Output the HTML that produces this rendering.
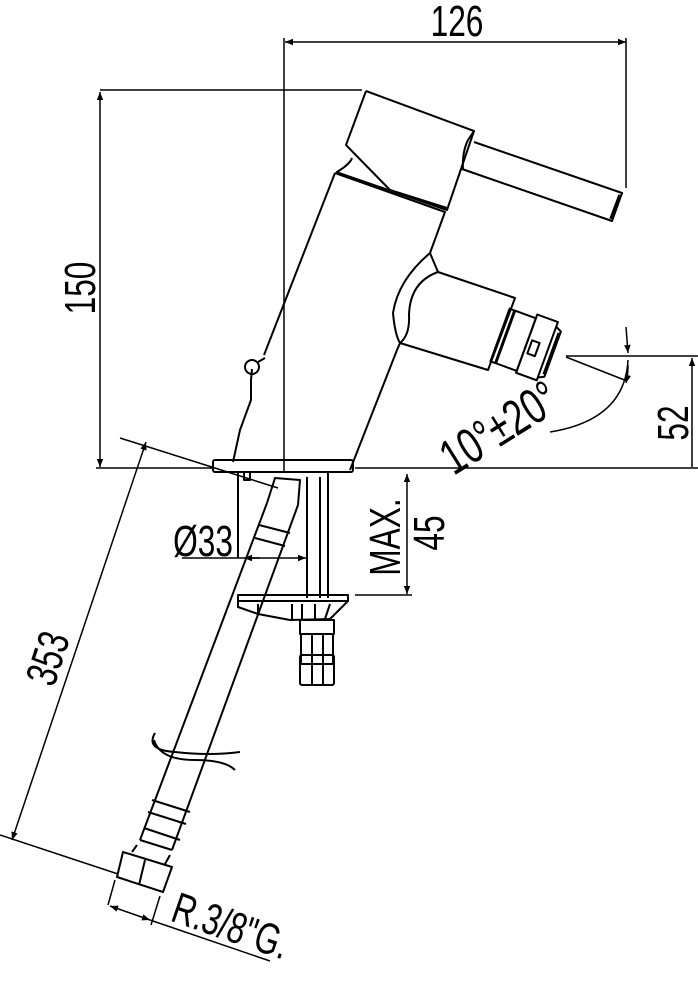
<!DOCTYPE html>
<html><head><meta charset="utf-8"><style>
html,body{margin:0;padding:0;background:#fff;}
svg{display:block;}
text{font-family:"Liberation Sans",sans-serif;fill:#000;}
</style></head><body>
<svg width="698" height="985" viewBox="0 0 698 985" xmlns="http://www.w3.org/2000/svg">
<defs>
<marker id="a" viewBox="0 0 10 10" refX="10" refY="5" markerWidth="13" markerHeight="8" orient="auto-start-reverse" markerUnits="userSpaceOnUse"><path d="M0,1 L10,5 L0,9 z" fill="#000"/></marker>
</defs>
<g fill="none" stroke="#000" stroke-width="1.5">
<line x1="285" y1="42" x2="626" y2="42" marker-start="url(#a)" marker-end="url(#a)"/>
<line x1="284" y1="38" x2="284" y2="472"/>
<line x1="626" y1="38" x2="626" y2="188"/>
<line x1="100" y1="92" x2="100" y2="467" marker-start="url(#a)" marker-end="url(#a)"/>
<line x1="100" y1="90" x2="362" y2="90"/>
<line x1="96" y1="468" x2="214" y2="468"/>
<line x1="355" y1="468" x2="698" y2="468"/>
<line x1="692" y1="358" x2="692" y2="467" marker-start="url(#a)"/>
<line x1="566" y1="356" x2="698" y2="356"/>
<line x1="566" y1="357" x2="627" y2="381"/>
<path d="M628,360 Q625,420 550,432"/>
<path d="M628,365 Q628,375 626,383" marker-end="url(#a)"/>
<line x1="626" y1="327" x2="628" y2="353" marker-end="url(#a)"/>
</g>
<g fill="none" stroke="#000" stroke-width="2" stroke-linejoin="round">
<path d="M366,91 L474,131 L447,210 L336,172"/>
<path d="M366,91 L346,145 L390,190 L447,208"/>
<path d="M352,158 Q350,164 337,172"/>
<path d="M474,131 L468,140 Q462,152 463,170"/>
<path d="M474,142 L622,193 L612,221 L462,169"/>
<line x1="620" y1="195" x2="611" y2="219" stroke-width="3.5"/>
<path d="M335,173 L445,212 L430,253 Q398,280 393,313 Q395,335 400,343 L397,350 L350,470"/>
<path d="M335,173 L264,355"/>
<path d="M430,253 L438,272 Q410,282 409,315 Q410,335 400,343"/>
<path d="M438,272 L515,298 L488,370 L400,343"/>
<g transform="translate(500,335) rotate(20)">
<rect x="0" y="-28" width="5" height="56"/>
<rect x="6" y="-28" width="22" height="56"/>
<rect x="28" y="-32" width="22" height="62"/>
<rect x="32" y="-6" width="8" height="14"/>
<path d="M50,-27 L56,-24 L56,24 L50,27"/>
<line x1="55" y1="-22" x2="55" y2="22" stroke-width="3.5"/>
</g>
<circle cx="252" cy="367" r="7"/>
<path d="M258,362 L265,358 M252,369 L251,380 L251,400 L240,430 L233,462"/>
<rect x="213" y="460" width="140" height="12" rx="2"/>
<path d="M238,472 L238,558 M244,472 L244,480 L250,480 L250,472"/>
<path d="M307,477 L307,598 M320,477 L320,598 M328,472 L328,598"/>
<rect x="238" y="595" width="110" height="6"/>
<path d="M238,601 L238,607 L258,614 L290,620 L330,619 L348,601"/>
<path d="M258,604 L258,614 M292,604 L292,620 M302,604 L302,620 M315,604 L315,620 M330,604 L325,619"/>
<rect x="300" y="620" width="34" height="14"/>
<rect x="301" y="634" width="32" height="30"/>
<rect x="300" y="655" width="34" height="30" rx="2"/>
<line x1="312" y1="634" x2="312" y2="685"/>
<line x1="323" y1="634" x2="323" y2="685"/>
<path d="M267,503 L140,840 M298,505 L172,850"/>
<path d="M267,503 L275,478 L300,480 L298,505"/>
<path d="M259,525 L290,533 M255,538 L285,546"/>
<path d="M152,800 L190,812 M148,812 L186,824"/>
<path d="M144,828 L180,840 M140,840 L172,850"/>
<path d="M123,852 L172,867 L163,892 L117,877 Z M145,860 L139,885"/>
<path d="M132,852 L137,845 M165,864 L170,855"/>
<path d="M155,733 Q145,750 175,752 Q210,756 240,752 M154,740 Q160,760 195,760 Q225,760 235,770"/>
</g>
<g fill="none" stroke="#000" stroke-width="1.5">
<line x1="182" y1="558" x2="306" y2="558" marker-end="url(#a)"/>
<line x1="260" y1="558" x2="244" y2="558" marker-end="url(#a)"/>
<line x1="407" y1="474" x2="407" y2="594" marker-start="url(#a)" marker-end="url(#a)"/>
<line x1="355" y1="595" x2="412" y2="595"/>
<line x1="146" y1="442" x2="12" y2="840" marker-start="url(#a)" marker-end="url(#a)"/>
<line x1="120" y1="438" x2="278" y2="488"/>
<line x1="0" y1="835" x2="118" y2="874"/>
<line x1="110" y1="906" x2="150" y2="920" marker-start="url(#a)" marker-end="url(#a)"/>
<line x1="115" y1="880" x2="108" y2="905"/>
<line x1="160" y1="896" x2="151" y2="925"/>
<line x1="150" y1="920" x2="270" y2="961"/>
</g>
<g font-size="44">
<text transform="translate(457,36) scale(0.72,1)" text-anchor="middle">126</text>
<text transform="translate(95,288) rotate(-90) scale(0.72,1)" text-anchor="middle">150</text>
<text transform="translate(688,423) rotate(-90) scale(0.72,1)" text-anchor="middle">52</text>
<text transform="translate(508,442) rotate(-32) scale(0.72,1)" text-anchor="middle" font-size="50">10°±20°</text>
<text transform="translate(203,556) scale(0.72,1)" text-anchor="middle">Ø33</text>
<text transform="translate(400,537) rotate(-90) scale(0.72,1)" text-anchor="middle">MAX.</text>
<text transform="translate(444,533) rotate(-90) scale(0.72,1)" text-anchor="middle">45</text>
<text transform="translate(62,663) rotate(-72) scale(0.72,1)" text-anchor="middle">353</text>
<text transform="translate(226,940) rotate(19) scale(0.72,1)" text-anchor="middle">R.3/8"G.</text>
</g>
</svg>
</body></html>
